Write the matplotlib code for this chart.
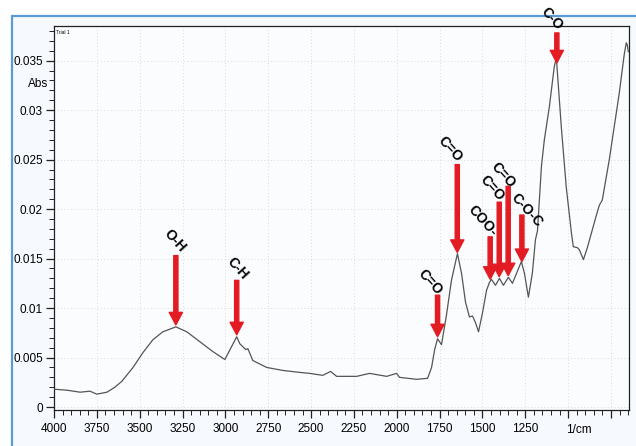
import numpy as np
import matplotlib
matplotlib.use("Agg")
import matplotlib.pyplot as plt
from matplotlib.patches import Rectangle
from matplotlib.ticker import MultipleLocator, FixedLocator

plt.rcParams['font.family'] = ['Liberation Sans', 'DejaVu Sans']

# FTIR spectrum (wavenumber in 1/cm, absorbance)
wavenumber = [4000, 3924, 3848, 3790, 3750, 3691, 3645, 3604, 3539, 3481,
              3423, 3365, 3289, 3225, 3149, 3073, 3003, 2934, 2916, 2881,
              2869, 2840, 2759, 2666, 2567, 2508, 2432, 2386, 2351, 2234,
              2159, 2059, 2001, 1984, 1884, 1820, 1797, 1779, 1762, 1739,
              1710, 1681, 1646, 1622, 1599, 1576, 1558, 1540, 1523, 1500,
              1476, 1459, 1448, 1424, 1401, 1378, 1349, 1325, 1273, 1255,
              1232, 1209, 1191, 1179, 1156, 1139, 1110, 1081, 1069, 1040,
              1011, 981, 970, 946, 935, 911, 888, 864, 835, 818,
              801, 760, 702, 673, 661, 655, 649]
absorbance = [0.0018, 0.0017, 0.0015, 0.0016, 0.0013, 0.0015, 0.0020, 0.0026, 0.0040, 0.0055,
              0.0068, 0.0076, 0.0081, 0.0076, 0.0066, 0.0056, 0.0048, 0.0071, 0.0064, 0.0058,
              0.0059, 0.0047, 0.0040, 0.0037, 0.0035, 0.0034, 0.0032, 0.0036, 0.0031, 0.0031,
              0.0034, 0.0031, 0.0034, 0.0030, 0.0028, 0.0029, 0.0040, 0.0058, 0.0069, 0.0063,
              0.0093, 0.0128, 0.0155, 0.0135, 0.0106, 0.0091, 0.0092, 0.0085, 0.0076, 0.0095,
              0.0118, 0.0126, 0.0129, 0.0123, 0.0130, 0.0123, 0.0131, 0.0125, 0.0147, 0.0135,
              0.0111, 0.0135, 0.0169, 0.0178, 0.0243, 0.0270, 0.0303, 0.0344, 0.0353, 0.0283,
              0.0222, 0.0176, 0.0162, 0.0161, 0.0159, 0.0149, 0.0161, 0.0176, 0.0194, 0.0204,
              0.0209, 0.0250, 0.0317, 0.0356, 0.0368, 0.0366, 0.0359]

# band assignments: label, band position, arrow start height, label position
band_labels = ["O-H", "C-H", "C=O", "C=O", "COO-", "C=O", "C=O", "C-O-C", "C-O"]
band_pos = [3289, 2934, 1762, 1647, 1455, 1402, 1350, 1270, 1066]
arrow_top = [0.0153, 0.0128, 0.0113, 0.0245, 0.0172, 0.0207, 0.0223, 0.0194, 0.0378]
label_x = [3295, 2932, 1808, 1690, 1500, 1446, 1381, 1243, 1093]
label_y = [0.0168, 0.0140, 0.0126, 0.0261, 0.0188, 0.0221, 0.0234, 0.0199, 0.0392]

fig = plt.figure(figsize=(6.36, 4.46), dpi=100)
fig.patch.set_facecolor("white")

# light blue frame around the scanned sheet
frame = Rectangle((12 / 636, -0.05), 1.0, 1 - 16 / 446 + 0.05,
                  transform=fig.transFigure, facecolor="#f6f9fd",
                  edgecolor="#5b9bd5", lw=1.6, zorder=-5)
fig.add_artist(frame)

ax = fig.add_axes([54 / 636, 36 / 446, 575 / 636, 384 / 446])
ax.set_zorder(2)
ax.set_facecolor("#fbfcfe")

ax.plot(wavenumber, absorbance, color="#555555", lw=0.9, zorder=3)

ax.set_xlim(4000, 645)
ax.set_ylim(-0.0003, 0.0385)

xmajor = np.arange(4000, 700, -250)
ax.xaxis.set_major_locator(FixedLocator(xmajor))
ax.xaxis.set_minor_locator(MultipleLocator(50))
ax.yaxis.set_major_locator(MultipleLocator(0.005))
ax.yaxis.set_minor_locator(MultipleLocator(0.001))
ax.set_xticklabels([str(v) if v >= 1250 else "" for v in xmajor])
ax.yaxis.set_major_formatter(plt.FuncFormatter(lambda v, p: "0" if abs(v) < 1e-9 else f"{v:g}"))

ax.tick_params(which="major", length=6, width=0.9, labelsize=8.5, color="#222222")
ax.tick_params(which="minor", length=3.5, width=0.7, color="#222222")
ax.tick_params(axis="x", pad=3)
ax.tick_params(axis="y", pad=2)
ax.grid(True, which="major", linestyle=(0, (1, 3)), color="#cdd1d5", lw=0.6)
for s in ax.spines.values():
    s.set_linewidth(0.9)
    s.set_color("#222222")

ax.text(935, -0.037, "1/cm", transform=ax.get_xaxis_transform(), ha="center",
        va="top", fontsize=8.5)
ax.text(-0.028, 0.0326, "Abs", transform=ax.get_yaxis_transform(), ha="center",
        va="center", fontsize=8.5)
ax.text(0.004, 0.99, "Trial 1", transform=ax.transAxes, ha="left", va="top",
        fontsize=3.5)

# red arrows pointing at each band, labels tilted above
wn_asc = np.array(wavenumber[::-1])
ab_asc = np.array(absorbance[::-1])
for lab, pos, top, lx, ly in zip(band_labels, band_pos, arrow_top, label_x, label_y):
    tip = np.interp(pos, wn_asc, ab_asc) + 0.0002
    ax.annotate("", xy=(pos, tip), xytext=(pos, top), annotation_clip=False,
                arrowprops=dict(arrowstyle="simple,head_length=0.9,head_width=0.95,tail_width=0.3",
                                color="#e31b23", mutation_scale=10,
                                shrinkA=0, shrinkB=0), zorder=5)
    ax.text(lx, ly, lab, rotation=-48, ha="center", va="center", fontsize=10,
            fontweight="bold", color="black", clip_on=False, zorder=6,
            rotation_mode="anchor")

fig.savefig("out.png", dpi=100)
